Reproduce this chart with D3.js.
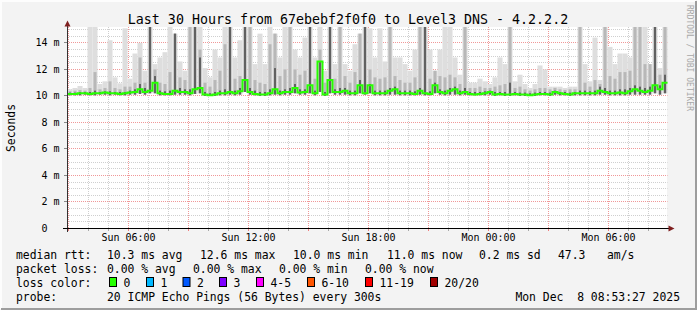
<!DOCTYPE html>
<html>
<head>
<meta charset="utf-8">
<script src="https://cdn.jsdelivr.net/npm/d3@7"></script>
<style>
body { margin: 0; background: #f3f3f3; }
svg { display: block; font-family: "DejaVu Sans Mono", monospace; }
text { white-space: pre; }
</style>
</head>
<body>
<svg id="chart"></svg>
<script>
// ping samples in ms, one every 15 minutes starting Sun 02:57
var median = [10.15,10.15,10.2,10.2,10.15,10.2,10.2,10.25,10.2,10.2,10.15,10.2,10.25,10.3,10.5,10.3,10.4,11.0,10.2,10.15,
  10.15,10.4,10.3,10.3,10.2,10.5,10.6,10.1,10.05,10.1,10.2,10.2,10.3,10.2,10.35,11.2,10.3,10.15,10.1,10.1,
  10.2,10.5,10.2,10.3,10.3,10.6,10.25,10.3,10.8,10.2,12.6,10.1,11.2,10.3,10.3,10.4,10.2,10.2,10.8,10.2,
  10.8,10.2,10.2,10.2,10.4,10.5,10.2,10.2,10.2,10.15,10.4,10.2,10.15,10.8,10.3,10.2,10.4,10.5,10.2,10.3,
  10.15,10.1,10.15,10.2,10.3,10.1,10.15,10.1,10.1,10.15,10.1,10.1,10.05,10.1,10.15,10.15,10.1,10.3,10.2,10.15,
  10.1,10.2,10.2,10.2,10.2,10.2,10.4,10.3,10.2,10.2,10.25,10.2,10.35,10.5,10.4,10.3,10.4,10.8,10.5,11.0];
var lowest = [10.05,10.05,10.05,10.1,10.05,10.05,10.1,10.1,10.05,10.1,10.05,10.05,10.1,10.1,10.15,10.1,10.2,10.2,10.05,10.05,
  10.05,10.1,10.1,10.1,10.05,10.15,10.2,10.0,10.0,10.0,10.05,10.05,10.1,10.05,10.1,10.3,10.1,10.05,10.0,10.0,
  10.05,10.1,10.05,10.1,10.1,10.2,10.1,10.1,10.2,10.05,10.3,10.0,10.2,10.1,10.1,10.1,10.05,10.05,10.2,10.1,
  10.2,10.05,10.05,10.05,10.1,10.1,10.05,10.05,10.05,10.05,10.1,10.05,10.05,10.2,10.1,10.05,10.1,10.1,10.05,10.1,
  10.05,10.05,10.05,10.05,10.1,10.0,10.05,10.0,10.0,10.05,10.0,10.0,10.0,10.0,10.05,10.05,10.0,10.1,10.05,10.05,
  10.0,10.05,10.05,10.05,10.05,10.05,10.1,10.1,10.05,10.05,10.05,10.05,10.1,10.1,10.1,10.1,10.1,10.2,10.1,10.2];
var darkTop = [10.25,10.25,10.3,10.3,10.3,10.4,10.3,10.35,10.35,10.3,10.3,10.3,10.4,10.5,10.9,10.6,15.3,11.5,10.4,10.35,
  10.4,14.7,10.6,10.5,10.5,15.3,12.9,10.3,10.2,10.3,10.4,10.5,15.3,10.4,10.6,15.3,10.6,10.4,10.3,10.3,
  10.5,12.1,10.4,10.5,10.6,10.9,10.5,10.5,15.3,10.4,12.6,10.3,15.3,10.5,10.6,10.6,10.4,10.4,11.2,15.3,
  10.9,10.4,10.4,10.4,10.6,10.7,10.4,10.4,10.4,10.35,10.6,15.3,10.35,11.0,10.5,10.4,10.6,10.7,10.4,10.6,
  10.3,10.3,10.3,10.35,10.4,10.3,10.3,10.3,11.0,10.3,10.25,10.25,10.2,10.25,10.3,10.3,10.25,10.4,10.3,10.3,
  10.25,10.3,10.4,10.4,10.35,10.4,10.7,10.6,10.4,10.4,10.5,10.5,10.6,10.8,10.7,10.6,10.7,15.3,10.8,11.6];
var midTop = [10.35,10.4,10.45,10.4,10.6,11.8,10.5,10.6,11.1,10.6,10.5,10.7,10.7,11.0,12.9,11.0,15.3,12.0,11.0,10.9,
  11.8,14.7,11.4,11.2,15.3,15.3,13.5,11.0,10.7,11.2,11.9,13.9,15.3,11.3,11.5,15.3,15.3,11.2,11.0,10.9,
  13.9,14.7,11.5,12.0,15.3,12.0,11.6,11.9,15.3,11.3,13.5,11.0,15.3,11.3,15.3,11.5,11.0,11.8,14.7,15.3,
  12.0,11.4,11.3,11.4,15.3,11.5,11.2,11.0,11.0,11.4,15.3,15.3,11.3,11.9,11.5,11.4,11.6,11.4,10.9,15.3,
  10.6,10.6,10.7,10.6,10.6,10.7,10.8,10.9,15.3,10.6,10.7,10.5,10.4,10.5,10.6,10.6,10.5,10.6,10.5,10.45,
  10.5,10.5,15.3,11.0,10.7,11.2,10.9,15.3,11.5,11.3,11.8,11.8,11.9,15.3,15.3,12.4,12.4,15.3,11.6,15.3];
var highest = [10.5,10.6,10.75,10.6,15.3,15.3,10.9,11.1,14.2,11.4,10.95,15.1,11.3,13.2,14.0,11.9,15.3,12.4,12.9,13.3,
  15.3,14.7,12.6,11.9,15.3,15.3,15.3,12.1,11.4,13.5,12.9,15.3,15.3,12.9,14.2,15.3,15.3,12.4,14.7,12.4,
  15.3,14.7,12.9,15.3,15.3,13.5,12.9,14.4,15.3,12.9,15.3,11.9,15.3,12.4,15.3,12.4,11.9,13.9,14.7,15.3,
  15.1,12.9,15.1,12.6,15.3,12.9,12.9,12.4,11.9,13.5,15.3,15.3,13.5,11.9,13.5,15.3,15.3,12.9,11.6,15.3,
  11.0,11.0,11.3,11.1,10.9,11.4,12.9,12.4,15.3,11.1,11.6,10.9,10.6,10.9,12.3,12.0,10.7,10.7,10.7,10.6,
  10.7,10.7,15.3,12.4,11.1,14.4,11.2,15.3,13.7,12.4,13.2,13.2,12.9,15.3,15.3,15.3,12.4,15.3,12.1,15.3];

var yTicks = [2, 4, 6, 8, 10, 12, 14];
var timeLabels = ["Sun 06:00", "Sun 12:00", "Sun 18:00", "Mon 00:00", "Mon 06:00"];
var lossLabels = ["0", "1", "2", "3", "4-5", "6-10", "11-19", "20/20"];
var rttStats = ["10.3", "12.6", "10.0", "11.0", "0.2", "47.3"];

var lossColors = ["#26ff00", "#00b8ff", "#0059ff", "#7e00ff", "#ff00ff", "#ff5500", "#ff0000", "#a10000"];

var width = 697, height = 310;

var svg = d3.select("#chart").attr("width", width).attr("height", height);

// background + 3d frame
svg.append("rect").attr("width", width).attr("height", height).attr("fill", "#f3f3f3");
svg.append("path").attr("d", "M1,309V1H696").attr("fill", "none").attr("stroke", "#fdfdfd").attr("stroke-width", 2);
svg.append("path").attr("d", "M1,309H696V1").attr("fill", "none").attr("stroke", "#9d9d9d").attr("stroke-width", 2);

var t0 = new Date(Date.UTC(2025, 11, 7, 2, 57));
var t1 = new Date(Date.UTC(2025, 11, 8, 8, 57));
var step = 15 * 60 * 1000;
var times = median.map((d, i) => new Date(t0.getTime() + i * step));

var x = d3.scaleUtc().domain([t0, t1]).range([67.5, 667.5]);
var y = d3.scaleLinear().domain([0, 15.2]).range([228.5, 27]);

// canvas
svg.append("rect")
  .attr("x", 67).attr("y", 27)
  .attr("width", 600).attr("height", 201.5)
  .attr("fill", "#fff");

svg.append("clipPath").attr("id", "plotclip")
  .append("rect").attr("x", 67).attr("y", 27).attr("width", 601).attr("height", 202);

var grid = svg.append("g");
var px = v => Math.round(v - 0.5) + 0.5;

// minor grid
var minorY = d3.range(0.5, 15.1, 0.5).filter(v => v % 2 !== 0);
grid.selectAll(".hminor").data(minorY).enter().append("line")
  .attr("x1", 67).attr("x2", 667.5)
  .attr("y1", d => px(y(d))).attr("y2", d => px(y(d)))
  .attr("stroke", "#cfcfcf").attr("stroke-dasharray", "1,1");

var hours = d3.utcHour.range(d3.utcHour.ceil(t0), t1);
grid.selectAll(".vminor").data(hours.filter(h => h.getUTCHours() % 3 !== 0)).enter().append("line")
  .attr("x1", d => px(x(d))).attr("x2", d => px(x(d)))
  .attr("y1", 27).attr("y2", 228)
  .attr("stroke", "#cfcfcf").attr("stroke-dasharray", "1,1");

// major grid
grid.selectAll(".hmajor").data(yTicks).enter().append("line")
  .attr("x1", 67).attr("x2", 667.5)
  .attr("y1", d => px(y(d))).attr("y2", d => px(y(d)))
  .attr("stroke", "#f09898").attr("stroke-dasharray", "1,1");

var majors = hours.filter(h => h.getUTCHours() % 3 === 0);
grid.selectAll(".vmajor").data(majors).enter().append("line")
  .attr("x1", d => px(x(d))).attr("x2", d => px(x(d)))
  .attr("y1", 27).attr("y2", 228)
  .attr("stroke", "#f09898").attr("stroke-dasharray", "1,1");

// smoke: outer band full width, inner bands as thinner strokes
var plot = svg.append("g").attr("clip-path", "url(#plotclip)");
var layers = [
  { top: highest, color: "#dedede", inset: 0 },
  { top: midTop, color: "#b8b8b8", inset: 1 },
  { top: darkTop, color: "#585858", inset: 1.6 }
];
layers.forEach(function (layer) {
  plot.append("g").selectAll("rect").data(layer.top).enter().append("rect")
    .attr("x", (d, i) => x(times[i]) + layer.inset)
    .attr("width", (d, i) => x(new Date(times[i].getTime() + step)) - x(times[i]) - 2 * layer.inset)
    .attr("y", d => y(d))
    .attr("height", (d, i) => Math.max(0, y(lowest[i]) - y(d)))
    .attr("fill", layer.color);
});

// median line (no loss -> green)
var medPts = median.map((d, i) => [times[i], d]);
medPts.push([new Date(times[times.length - 1].getTime() + step), median[median.length - 1]]);
plot.append("path")
  .datum(medPts)
  .attr("fill", "none")
  .attr("stroke", lossColors[0])
  .attr("stroke-width", 2)
  .attr("d", d3.line().x(d => x(d[0])).y(d => y(d[1])).curve(d3.curveStepAfter));

// axes
svg.append("line").attr("x1", 67.5).attr("x2", 67.5).attr("y1", 24).attr("y2", 232).attr("stroke", "#333");
svg.append("line").attr("x1", 63).attr("x2", 670).attr("y1", 228.5).attr("y2", 228.5).attr("stroke", "#000");
svg.append("path").attr("d", "M64.5,26.5L67.5,20.5L70.5,26.5Z").attr("fill", "#7f1f1f");
svg.append("path").attr("d", "M668.5,225.5L674.5,228.5L668.5,231.5Z").attr("fill", "#7f1f1f");

// x ticks
svg.selectAll(".xtick").data(hours).enter().append("line")
  .attr("x1", d => px(x(d))).attr("x2", d => px(x(d)))
  .attr("y1", 229).attr("y2", 231)
  .attr("stroke", d => d.getUTCHours() % 3 === 0 ? "#f08080" : "#aaa");

// y ticks
svg.selectAll(".ytick").data(yTicks).enter().append("line")
  .attr("x1", 64).attr("x2", 67)
  .attr("y1", d => px(y(d))).attr("y2", d => px(y(d)))
  .attr("stroke", "#888");

// y labels
var ylab = svg.append("g").attr("font-size", "10px").attr("fill", "#000");
ylab.selectAll(".yn").data([0].concat(yTicks)).enter().append("text")
  .attr("x", 47.5).attr("y", d => y(d) + 3.5)
  .attr("text-anchor", "end").text(d => d);
ylab.selectAll(".ym").data(yTicks).enter().append("text")
  .attr("x", 53.5).attr("y", d => y(d) + 3.5).text("m");

// x labels
var labelTimes = hours.filter(h => h.getUTCHours() % 6 === 0);
svg.append("g").attr("font-size", "10px").selectAll("text").data(labelTimes).enter().append("text")
  .attr("x", d => x(d)).attr("y", 241)
  .attr("text-anchor", "middle")
  .text((d, i) => timeLabels[i]);

// title
svg.append("text").attr("x", 348).attr("y", 23.5).attr("text-anchor", "middle")
  .attr("font-size", "13.3px").text("Last 30 Hours from 67ebebf2f0f0 to Level3 DNS - 4.2.2.2");

// axis title
svg.append("text").attr("transform", "translate(15,128) rotate(-90)")
  .attr("text-anchor", "middle").attr("font-size", "11.4px").text("Seconds");

// watermark
svg.append("text").attr("transform", "translate(686.5,5) rotate(90)")
  .attr("font-size", "8px").attr("fill", "#a8a8a8").text("RRDTOOL / TOBI OETIKER");

// legend
var rowY = [259, 273, 287, 300.5];
var leg = svg.append("g").attr("font-size", "11.4px").attr("fill", "#000");
var items = [
  ["median rtt:", 16, 0], [rttStats[0] + " ms avg", 107, 0], [rttStats[1] + " ms max", 200, 0],
  [rttStats[2] + " ms min", 293, 0], [rttStats[3] + " ms now", 387, 0], [rttStats[4] + " ms sd", 479, 0],
  [rttStats[5], 558, 0], ["am/s", 607, 0],
  ["packet loss:", 16, 1], ["0.00 % avg", 107, 1], ["0.00 % max", 193, 1], ["0.00 % min", 279, 1], ["0.00 % now", 365, 1],
  ["loss color:", 16, 2],
  ["probe:", 16, 3], ["20 ICMP Echo Pings (56 Bytes) every 300s", 107, 3]
];
leg.selectAll(".li").data(items).enter().append("text")
  .attr("x", d => d[1]).attr("y", d => rowY[d[2]]).text(d => d[0]);
leg.append("text").attr("x", 680).attr("y", rowY[3]).attr("text-anchor", "end")
  .text("Mon Dec  8 08:53:27 2025");

var boxX = [109, 146, 182.5, 219, 256, 307, 365, 430];
leg.selectAll(".lb").data(lossLabels).enter().append("rect")
  .attr("x", (d, i) => boxX[i] + 0.5).attr("y", 277.5)
  .attr("width", 7).attr("height", 9)
  .attr("fill", (d, i) => lossColors[i]).attr("stroke", "#000");
leg.selectAll(".ll").data(lossLabels).enter().append("text")
  .attr("x", (d, i) => boxX[i] + 14.5).attr("y", rowY[2]).text(d => d);
</script>
</body>
</html>
